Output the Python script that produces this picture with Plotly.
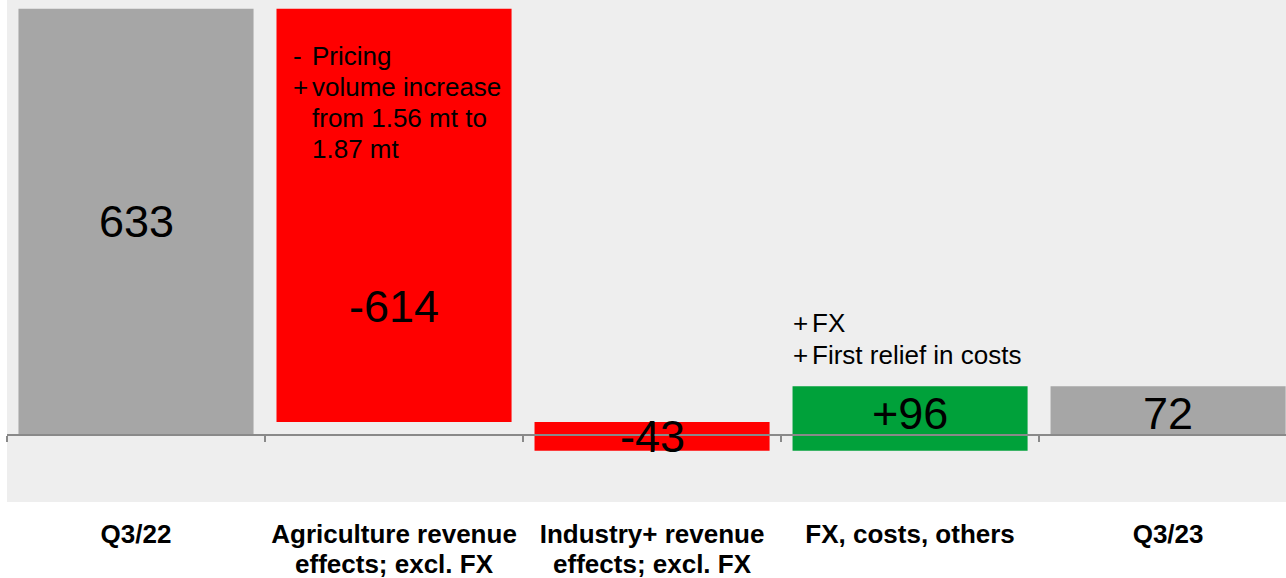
import plotly.graph_objects as go

# ---- data ----
cat_line1 = ["Q3/22", "Agriculture revenue", "Industry+ revenue", "FX, costs, others", "Q3/23"]
cat_line2 = ["", "effects; excl. FX", "effects; excl. FX", "", ""]
measures = ["absolute", "relative", "relative", "relative", "total"]
values = [633, -614, -43, 96, 72]

agri_bullets = ["-", "+", "", ""]
agri_notes = ["Pricing", "volume increase", "from 1.56 mt to", "1.87 mt"]
fx_bullets = ["+", "+"]
fx_notes = ["FX", "First relief in costs"]

# ---- styles ----
GRAY = "#A6A6A6"
RED = "#FF0000"
GREEN = "#00A13A"
AXIS = "#898989"
FONT = "Liberation Sans, Arial, sans-serif"
BAR_W = 0.911
Y_RANGE = [-100, 646]
X_RANGE = [-0.5, 4.457]

fig = go.Figure()
fig.add_trace(go.Waterfall(
    x=cat_line1, y=values, measure=measures,
    width=BAR_W,
    connector=dict(visible=False),
    increasing=dict(marker=dict(color=GREEN)),
    decreasing=dict(marker=dict(color=RED)),
    totals=dict(marker=dict(color=GRAY)),
    textinfo="none", hoverinfo="skip",
))
# invisible helper trace for the second line of category labels
fig.add_trace(go.Scatter(
    x=list(range(len(cat_line1))), y=[0] * len(cat_line1), xaxis="x2",
    mode="markers", marker=dict(opacity=0), showlegend=False, hoverinfo="skip",
))

# value labels centred on the bars
label_shift = [0, -91, 0, 5, -3]
running = 0
tops = []
for i, (m, v) in enumerate(zip(measures, values)):
    if m == "absolute":
        lo, hi = 0, v
        running = v
        txt = f"{v}"
    elif m == "total":
        lo, hi = 0, running
        txt = f"{running}"
    else:
        lo, hi = running, running + v
        running += v
        txt = f"{v:+d}"
    tops.append(max(lo, hi))
    fig.add_annotation(x=cat_line1[i], y=(lo + hi) / 2, text=txt, showarrow=False,
                       yanchor="middle", yshift=label_shift[i],
                       font=dict(family=FONT, size=45, color="black"))

# notes
def add_notes(idx, bullets, notes, y_ref, first_shift, step, bx, tx):
    for j, (b, t) in enumerate(zip(bullets, notes)):
        ys = first_shift - j * step
        if b:
            fig.add_annotation(x=idx - BAR_W / 2, y=y_ref, xref="x", yref="y", text=b,
                               showarrow=False, xanchor="left", yanchor="middle",
                               xshift=bx, yshift=ys,
                               font=dict(family=FONT, size=26, color="black"))
        fig.add_annotation(x=idx - BAR_W / 2, y=y_ref, xref="x", yref="y", text=t,
                           showarrow=False, xanchor="left", yanchor="middle",
                           xshift=tx, yshift=ys,
                           font=dict(family=FONT, size=26, color="black"))

add_notes(1, agri_bullets, agri_notes, tops[1], -47, 31.2, 14, 33)
add_notes(3, fx_bullets, fx_notes, tops[3], 63, 31.6, -2, 17)

zero_pos = (0 - Y_RANGE[0]) / (Y_RANGE[1] - Y_RANGE[0])

fig.update_layout(
    width=1286, height=578,
    margin=dict(l=7, r=0, t=0, b=76, autoexpand=False),
    paper_bgcolor="white", plot_bgcolor="#EEEEEE",
    showlegend=False,
    font=dict(family=FONT, color="black"),
    xaxis=dict(
        type="category", range=X_RANGE, anchor="free", position=zero_pos,
        showline=True, linecolor=AXIS, linewidth=2, automargin=False,
        ticks="outside", tickson="boundaries", ticklen=6, tickwidth=2, tickcolor=AXIS,
        showgrid=False, fixedrange=True,
        tickfont=dict(family=FONT, size=26, color="black", weight="bold"),
        ticklabelstandoff=76,
    ),
    xaxis2=dict(
        type="linear", range=X_RANGE, overlaying="x", anchor="free", position=zero_pos,
        tickmode="array", tickvals=list(range(len(cat_line2))), ticktext=cat_line2,
        showline=False, ticks="", showgrid=False, zeroline=False, fixedrange=True,
        automargin=False,
        tickfont=dict(family=FONT, size=26, color="black", weight="bold"),
        ticklabelstandoff=111,
    ),
    yaxis=dict(range=Y_RANGE, visible=False, showgrid=False, zeroline=False,
               fixedrange=True, automargin=False),
)

fig.write_html(
    "out.html",
    config={"displayModeBar": False},
    post_script="document.body.style.margin='0';document.body.style.overflow='hidden';",
)
